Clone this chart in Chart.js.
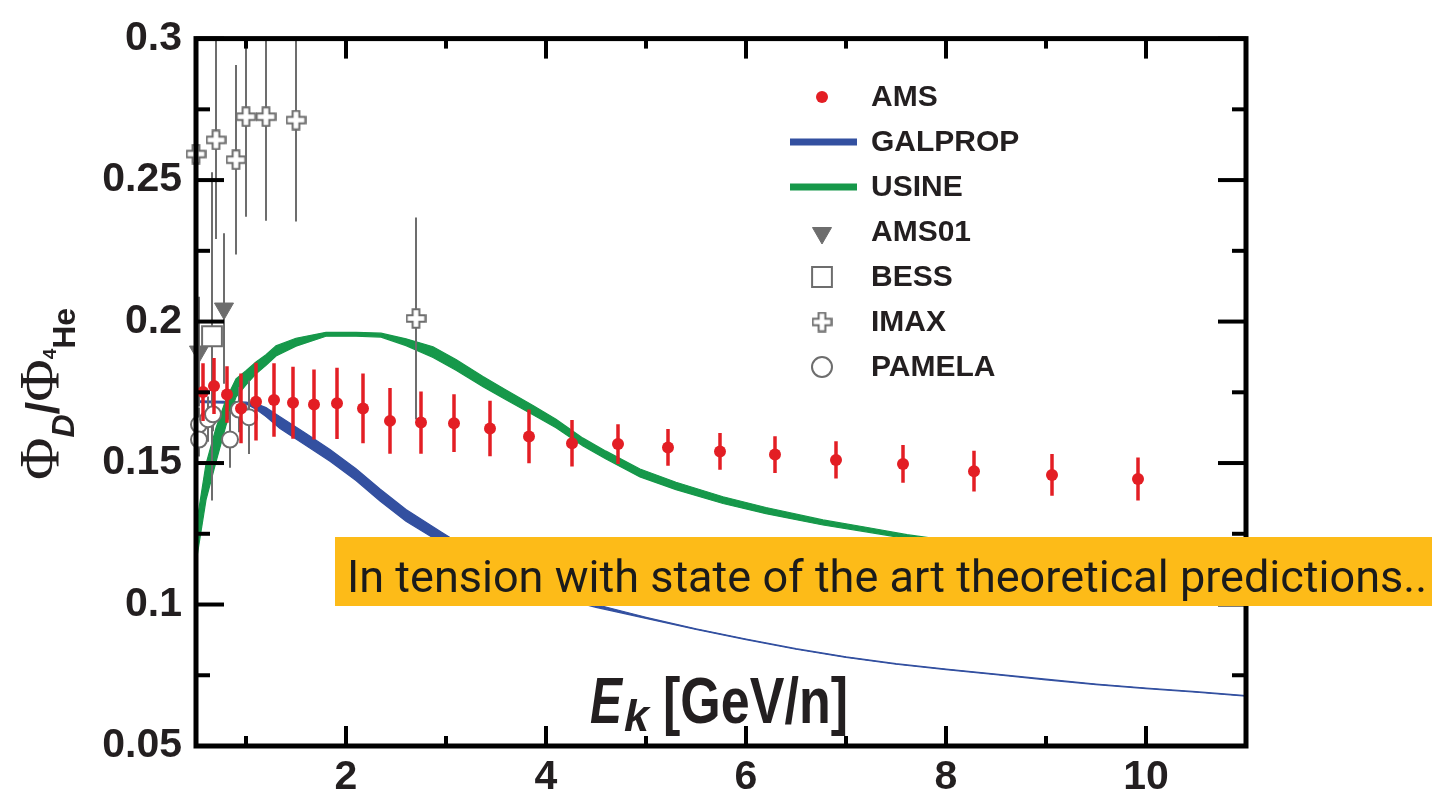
<!DOCTYPE html>
<html>
<head>
<meta charset="utf-8">
<script src="https://cdn.jsdelivr.net/npm/chart.js@4.4.1/dist/chart.umd.min.js"></script>
<style>
  html, body { margin: 0; padding: 0; background: #fff; }
  #wrap { position: relative; width: 1432px; height: 796px; }
</style>
</head>
<body>
<div id="wrap"><canvas id="ratioChart" width="1432" height="796"></canvas></div>
<script>
// ---- data ----
const amsE   = [0.57, 0.68, 0.81, 0.95, 1.10, 1.28, 1.47, 1.68, 1.91, 2.17, 2.44, 2.75, 3.08, 3.44, 3.83, 4.26, 4.72, 5.22, 5.74, 6.29, 6.90, 7.57, 8.28, 9.06, 9.92];
const amsR   = [0.1751, 0.1772, 0.1742, 0.1693, 0.1717, 0.1723, 0.1713, 0.1707, 0.1711, 0.1693, 0.1649, 0.1643, 0.1641, 0.1622, 0.1594, 0.1570, 0.1567, 0.1555, 0.1541, 0.1530, 0.1511, 0.1497, 0.1471, 0.1458, 0.1444];
const amsErr = [0.0102, 0.0099, 0.0100, 0.0123, 0.0137, 0.0130, 0.0127, 0.0124, 0.0126, 0.0123, 0.0116, 0.0110, 0.0102, 0.0098, 0.0095, 0.0082, 0.0070, 0.0065, 0.0065, 0.0065, 0.0066, 0.0067, 0.0072, 0.0074, 0.0076];

const pamelaE   = [0.53, 0.53, 0.62, 0.67, 0.84, 0.93, 1.03];
const pamelaR   = [0.1636, 0.1583, 0.1655, 0.1672, 0.1583, 0.1689, 0.1662];
const pamelaErr = [0.006, 0.006, 0.008, 0.006, 0.010, 0.008, 0.013];

const imaxE   = [0.50, 0.70, 0.90, 1.00, 1.20, 1.50, 2.70];
const imaxR   = [0.2592, 0.2642, 0.2572, 0.2724, 0.2724, 0.2712, 0.2011];
const imaxErr = [0.041, 0.035, 0.0335, 0.0354, 0.0368, 0.0358, 0.0357];

const bessE = [0.66];
const bessR = [0.1948];
const bessErr = [0.058];

const ams01E = [0.53, 0.78];
const ams01R = [0.1894, 0.2046];
const ams01Err = [0.0194, 0.0266];

const galpropE    = [0.5, 0.8, 1.0, 1.1, 1.2, 1.34, 1.6, 1.84, 2.1, 2.34, 2.6, 2.94, 3.3, 3.7, 4.1, 4.5, 5.0, 5.5, 6.0, 6.5, 7.0, 7.5, 8.0, 8.5, 9.0, 9.5, 10.0, 10.5, 11.0];
const galpropLow  = [0.1714, 0.1712, 0.1709, 0.1690, 0.1664, 0.1622, 0.1562, 0.1506, 0.1438, 0.1366, 0.1294, 0.1221, 0.1147, 0.1078, 0.1027, 0.0990, 0.0951, 0.0912, 0.0876, 0.0842, 0.0813, 0.0789, 0.0770, 0.0752, 0.0734, 0.0717, 0.0703, 0.0690, 0.0676];
const galpropHigh = [0.1720, 0.1718, 0.1715, 0.1710, 0.1696, 0.1664, 0.1604, 0.1548, 0.1480, 0.1408, 0.1336, 0.1259, 0.1179, 0.1102, 0.1043, 0.1000, 0.0955, 0.0914, 0.0878, 0.0844, 0.0815, 0.0791, 0.0772, 0.0754, 0.0736, 0.0719, 0.0705, 0.0692, 0.0678];

const usineE    = [0.5, 0.6, 0.7, 0.8, 0.9, 1.0, 1.1, 1.2, 1.3, 1.5, 1.8, 2.1, 2.35, 2.6, 2.87, 3.1, 3.37, 3.6, 3.87, 4.1, 4.37, 4.6, 4.94, 5.3, 5.77, 6.2, 6.77, 7.2, 7.61, 8.0, 8.5, 9.0, 9.5, 10.0, 10.5, 11.0];
const usineLow  = [0.1147, 0.1370, 0.1504, 0.1633, 0.1733, 0.1776, 0.1815, 0.1845, 0.1878, 0.1913, 0.1948, 0.1948, 0.1945, 0.1915, 0.1873, 0.1828, 0.1770, 0.1724, 0.1671, 0.1625, 0.1560, 0.1514, 0.1451, 0.1406, 0.1357, 0.1321, 0.1281, 0.1257, 0.1233, 0.1216, 0.1194, 0.1174, 0.1156, 0.1139, 0.1124, 0.1109];
const usineHigh = [0.1273, 0.1496, 0.1624, 0.1725, 0.1797, 0.1826, 0.1857, 0.1883, 0.1914, 0.1941, 0.1962, 0.1962, 0.1959, 0.1939, 0.1911, 0.1866, 0.1806, 0.1758, 0.1703, 0.1655, 0.1588, 0.1542, 0.1479, 0.1432, 0.1381, 0.1343, 0.1299, 0.1273, 0.1247, 0.1228, 0.1206, 0.1186, 0.1168, 0.1151, 0.1136, 0.1121];

const xMajor = [2, 4, 6, 8, 10];
const xMinor = [1, 3, 5, 7, 9];
const yMajor = [0.05, 0.1, 0.15, 0.2, 0.25, 0.3];
const yMinor = [0.075, 0.125, 0.175, 0.225, 0.275];
const yLabels = ['0.05', '0.1', '0.15', '0.2', '0.25', '0.3'];

const legendNames = ['AMS', 'GALPROP', 'USINE', 'AMS01', 'BESS', 'IMAX', 'PAMELA'];
const bannerText = 'In tension with state of the art theoretical predictions..';

// ---- styling ----
const ink = '#231f20';
const red = '#e31e24';
const blue = '#3350a0';
const green = '#16984a';
const gray = '#6d6d6d';
const sans = '"Liberation Sans", Arial, sans-serif';

const pts = (xs, ys) => xs.map((v, i) => ({ x: v, y: ys[i] }));

function makePlus(size) {
    const c = document.createElement('canvas');
    c.width = c.height = size;
    const g = c.getContext('2d');
    const m = 1.2, a = size * 0.34, b = size * 0.66, s = size - m;
    g.beginPath();
    g.moveTo(a, m); g.lineTo(b, m); g.lineTo(b, a); g.lineTo(s, a); g.lineTo(s, b);
    g.lineTo(b, b); g.lineTo(b, s); g.lineTo(a, s); g.lineTo(a, b); g.lineTo(m, b);
    g.lineTo(m, a); g.lineTo(a, a); g.closePath();
    g.fillStyle = '#fff';
    g.fill();
    g.lineWidth = 2;
    g.strokeStyle = gray;
    g.stroke();
    return c;
}
const plusMark = makePlus(21);

// error bars drawn under each dataset's markers
const errorBars = {
    id: 'errorBars',
    beforeDatasetDraw(chart, args) {
        const ds = chart.data.datasets[args.index];
        if (!ds.errors) return;
        const { ctx, chartArea: a, scales: { x, y } } = chart;
        ctx.save();
        ctx.beginPath();
        ctx.rect(a.left, a.top, a.right - a.left, a.bottom - a.top);
        ctx.clip();
        ctx.strokeStyle = ds.errorColor;
        ctx.lineWidth = ds.errorWidth;
        ds.data.forEach((p, i) => {
            const px = x.getPixelForValue(p.x);
            ctx.beginPath();
            ctx.moveTo(px, y.getPixelForValue(p.y - ds.errors[i]));
            ctx.lineTo(px, y.getPixelForValue(p.y + ds.errors[i]));
            ctx.stroke();
        });
        ctx.restore();
    }
};

// box frame with inward ticks on all sides
const frame = {
    id: 'frame',
    afterDatasetsDraw(chart) {
        const { ctx, chartArea: a, scales: { x, y } } = chart;
        ctx.save();
        ctx.strokeStyle = '#000';
        ctx.lineWidth = 5;
        ctx.lineCap = 'square';
        ctx.strokeRect(a.left, a.top, a.right - a.left, a.bottom - a.top);
        ctx.lineCap = 'butt';
        ctx.lineWidth = 4;
        const line = (x1, y1, x2, y2) => { ctx.beginPath(); ctx.moveTo(x1, y1); ctx.lineTo(x2, y2); ctx.stroke(); };
        xMajor.forEach(v => { const p = x.getPixelForValue(v); line(p, a.bottom, p, a.bottom - 20); line(p, a.top, p, a.top + 20); });
        xMinor.forEach(v => { const p = x.getPixelForValue(v); line(p, a.bottom, p, a.bottom - 10); line(p, a.top, p, a.top + 10); });
        yMajor.forEach(v => { const p = y.getPixelForValue(v); line(a.left, p, a.left + 28, p); line(a.right, p, a.right - 28, p); });
        yMinor.forEach(v => { const p = y.getPixelForValue(v); line(a.left, p, a.left + 14, p); line(a.right, p, a.right - 14, p); });
        ctx.restore();
    }
};

function fitText(ctx, text, font, x, y, width) {
    ctx.font = font;
    const w = ctx.measureText(text).width;
    ctx.save();
    ctx.translate(x, y);
    ctx.scale(width / w, 1);
    ctx.fillText(text, 0, 0);
    ctx.restore();
}

const decorations = {
    id: 'decorations',
    afterDraw(chart) {
        const ctx = chart.ctx;
        ctx.save();
        ctx.fillStyle = ink;
        ctx.textBaseline = 'alphabetic';

        // axis titles
        fitText(ctx, 'E', 'bold italic 64px ' + sans, 590, 723, 32);
        fitText(ctx, 'k', 'bold italic 44px ' + sans, 624, 731, 25);
        fitText(ctx, '[GeV/n]', 'bold 64px ' + sans, 663, 723, 185);

        ctx.save();
        ctx.translate(59, 480);
        ctx.rotate(-Math.PI / 2);
        let cx = 0;
        const put = (t, font, dy) => { ctx.font = font; ctx.fillText(t, cx, dy); cx += ctx.measureText(t).width; };
        put('Φ', '58px "Liberation Serif", serif', 0);
        put('D', 'bold italic 32px ' + sans, 15);
        put('/', 'bold 46px ' + sans, 0);
        put('Φ', '58px "Liberation Serif", serif', 0);
        put('4', 'bold 19px ' + sans, -3);
        put('He', 'bold 32px ' + sans, 16);
        ctx.restore();

        // legend
        const lx = 822, tx = 871, y0 = 97, dy = 45;
        const dp = Chart.helpers.drawPoint;
        legendNames.forEach((name, i) => {
            const ly = y0 + dy * i;
            ctx.save();
            if (i === 0) {
                ctx.fillStyle = red;
                dp(ctx, { pointStyle: 'circle', radius: 6, borderWidth: 0 }, lx, ly);
            } else if (i === 1 || i === 2) {
                ctx.strokeStyle = i === 1 ? blue : green;
                ctx.lineWidth = 7;
                ctx.beginPath(); ctx.moveTo(790, ly); ctx.lineTo(857, ly); ctx.stroke();
            } else if (i === 3) {
                ctx.fillStyle = gray; ctx.strokeStyle = gray; ctx.lineWidth = 1;
                dp(ctx, { pointStyle: 'triangle', radius: 11, rotation: 180, borderWidth: 1 }, lx, ly + 1);
            } else if (i === 4) {
                ctx.fillStyle = '#fff'; ctx.strokeStyle = gray; ctx.lineWidth = 2;
                dp(ctx, { pointStyle: 'rect', radius: 14, borderWidth: 2 }, lx, ly);
            } else if (i === 5) {
                ctx.drawImage(plusMark, lx - plusMark.width / 2, ly - plusMark.height / 2);
            } else {
                ctx.fillStyle = '#fff'; ctx.strokeStyle = gray; ctx.lineWidth = 2;
                dp(ctx, { pointStyle: 'circle', radius: 10, borderWidth: 2 }, lx, ly);
            }
            ctx.restore();
            ctx.fillStyle = ink;
            ctx.font = 'bold 30px ' + sans;
            ctx.textBaseline = 'middle';
            ctx.fillText(name, tx, ly + 1);
        });

        // banner
        ctx.fillStyle = '#fdbb18';
        ctx.fillRect(335, 537, 1097, 69);
        ctx.fillStyle = '#1b1b1b';
        ctx.textBaseline = 'alphabetic';
        fitText(ctx, bannerText, '44px Roboto, "Open Sans", sans-serif', 347, 592, 1080);
        ctx.restore();
    }
};

const markerDefaults = { showLine: false, clip: false, pointHoverRadius: 0 };

new Chart(document.getElementById('ratioChart'), {
    type: 'line',
    data: {
        datasets: [
            { ...markerDefaults, label: 'AMS', data: pts(amsE, amsR), pointStyle: 'circle', pointRadius: 6, pointBorderWidth: 0,
              pointBackgroundColor: red, errors: amsErr, errorColor: red, errorWidth: 3.5, order: 0 },
            { ...markerDefaults, label: 'PAMELA', data: pts(pamelaE, pamelaR), pointStyle: 'circle', pointRadius: 8, pointBorderWidth: 2,
              pointBorderColor: gray, pointBackgroundColor: '#fff', errors: pamelaErr, errorColor: gray, errorWidth: 2, order: 1 },
            { ...markerDefaults, label: 'IMAX', data: pts(imaxE, imaxR), pointStyle: plusMark, pointRadius: 10,
              errors: imaxErr, errorColor: gray, errorWidth: 2, order: 2 },
            { ...markerDefaults, label: 'BESS', data: pts(bessE, bessR), pointStyle: 'rect', pointRadius: 14, pointBorderWidth: 2,
              pointBorderColor: gray, pointBackgroundColor: '#fff', errors: bessErr, errorColor: gray, errorWidth: 2, order: 2 },
            { ...markerDefaults, label: 'AMS01', data: pts(ams01E, ams01R), pointStyle: 'triangle', rotation: 180, pointRadius: 11,
              pointBorderWidth: 1, pointBorderColor: gray, pointBackgroundColor: gray, errors: ams01Err, errorColor: gray, errorWidth: 2, order: 2 },
            { label: 'USINE', data: pts(usineE, usineLow), borderColor: green, borderWidth: 1.2, pointRadius: 0, tension: 0, fill: false, order: 5 },
            { label: 'USINE', data: pts(usineE, usineHigh), borderColor: green, borderWidth: 1.2, pointRadius: 0, tension: 0,
              fill: '-1', backgroundColor: green, order: 5 },
            { label: 'GALPROP', data: pts(galpropE, galpropLow), borderColor: blue, borderWidth: 1.2, pointRadius: 0, tension: 0, fill: false, order: 6 },
            { label: 'GALPROP', data: pts(galpropE, galpropHigh), borderColor: blue, borderWidth: 1.2, pointRadius: 0, tension: 0,
              fill: '-1', backgroundColor: blue, order: 6 }
        ]
    },
    options: {
        responsive: false,
        animation: false,
        events: [],
        layout: { autoPadding: false, padding: { top: 33, right: 186, left: 0, bottom: 0 } },
        plugins: { legend: { display: false }, tooltip: { enabled: false } },
        scales: {
            x: {
                type: 'linear', min: 0.5, max: 11,
                afterBuildTicks: s => { s.ticks = xMajor.map(v => ({ value: v })); },
                afterFit: s => { s.height = 50; },
                grid: { display: false, drawTicks: false },
                border: { display: false },
                ticks: { color: ink, padding: 7, maxRotation: 0, font: { family: sans, size: 41, weight: 'bold' } }
            },
            y: {
                type: 'linear', min: 0.05, max: 0.3,
                afterBuildTicks: s => { s.ticks = yMajor.map(v => ({ value: v })); },
                afterFit: s => { s.width = 196; },
                grid: { display: false, drawTicks: false },
                border: { display: false },
                ticks: { color: ink, padding: 14, font: { family: sans, size: 41, weight: 'bold' },
                         callback: (v, i) => yLabels[i] }
            }
        }
    },
    plugins: [errorBars, frame, decorations]
});
</script>
</body>
</html>
